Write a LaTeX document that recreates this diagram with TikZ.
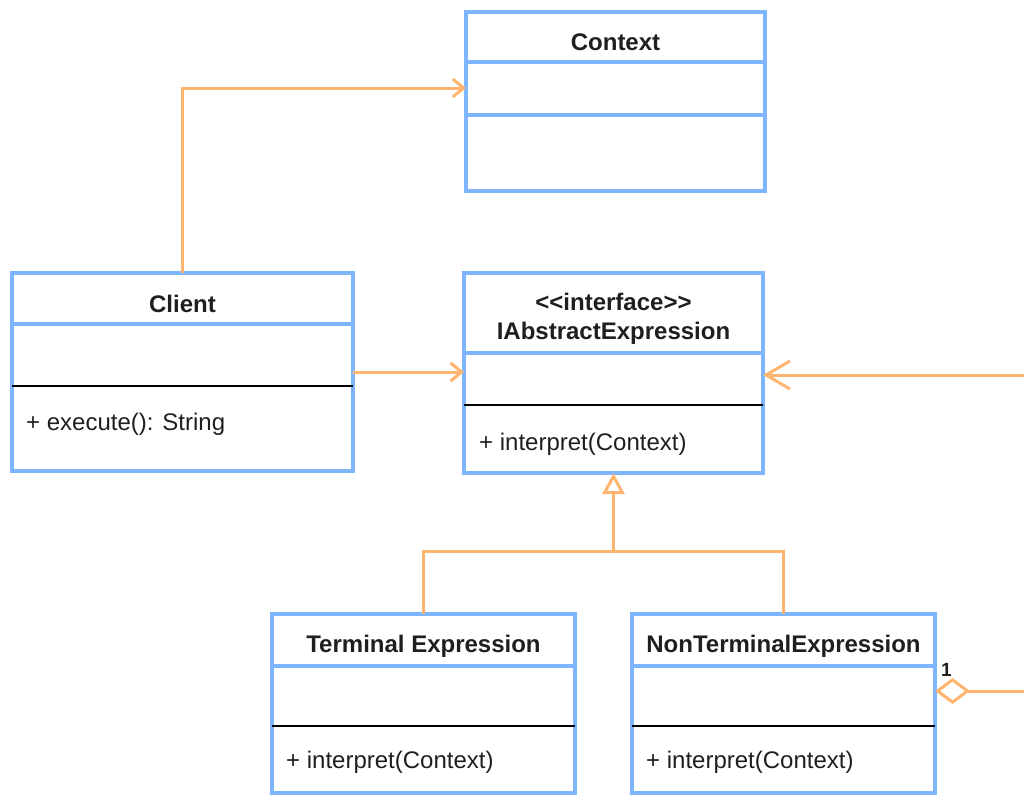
\documentclass[tikz,border=0pt]{standalone}
\usepackage{fontspec}
\setmainfont{Liberation Sans}
\usetikzlibrary{arrows.meta}
\definecolor{umlblue}{HTML}{7EB5FF}
\definecolor{umlorange}{HTML}{FFB570}
\definecolor{txt}{HTML}{1F1F1F}
\tikzset{
  classbox/.style={draw=umlblue, line width=3.5pt, rectangle, inner sep=0pt, outer sep=0pt, anchor=north west},
  bluediv/.style={draw=umlblue, line width=3.5pt},
  blackdiv/.style={draw=black, line width=1.5pt},
  title/.style={font=\fontsize{24}{28}\selectfont\bfseries, text=txt, inner sep=0pt, anchor=base},
  member/.style={font=\fontsize{24}{28}\selectfont, text=txt, inner sep=0pt, anchor=base west},
  mult/.style={font=\fontsize{19}{22}\selectfont\bfseries, text=txt, inner sep=0pt, anchor=base west},
  conn/.style={draw=umlorange, line width=3pt},
  assoc/.style={conn, -{Straight Barb[length=11pt,width=18pt]}},
  bigassoc/.style={conn, -{Straight Barb[length=24pt,width=28pt]}},
  generalize/.style={conn, -{Triangle[open, length=21pt, width=22pt, fill=white]}},
  aggregate/.style={conn, -{Diamond[open, length=35pt, width=26pt, fill=white]}}
}
\begin{document}
\begin{tikzpicture}[x=1pt,y=-1pt]
\useasboundingbox (0,0) rectangle (1024,795);

% Context
\node[classbox, minimum width=299pt, minimum height=179pt] (ctx) at (466,12) {};
\draw[bluediv] ([yshift=-50pt]ctx.north west) -- ([yshift=-50pt]ctx.north east);
\draw[bluediv] ([yshift=-103pt]ctx.north west) -- ([yshift=-103pt]ctx.north east);
\node[title] (ctxT) at (615.5,50) {Context};

% Client
\node[classbox, minimum width=341pt, minimum height=198pt] (client) at (12,273) {};
\draw[bluediv] ([yshift=-51pt]client.north west) -- ([yshift=-51pt]client.north east);
\draw[blackdiv] ([yshift=-113pt]client.north west) -- ([yshift=-113pt]client.north east);
\node[title] (clientT) at (182.5,312.5) {Client};
\node[member] (clientM) at (26,430) {+ execute(): String};

% Interface
\node[classbox, minimum width=299pt, minimum height=200pt] (iface) at (464,273) {};
\draw[bluediv] ([yshift=-80pt]iface.north west) -- ([yshift=-80pt]iface.north east);
\draw[blackdiv] ([yshift=-132pt]iface.north west) -- ([yshift=-132pt]iface.north east);
\node[title] (ifaceS) at (613.5,310) {<{}<interface>{}>};
\node[title] (ifaceT) at (613.5,339) {IAbstractExpression};
\node[member] (ifaceM) at (479,450) {+ interpret(Context)};

% Terminal Expression
\node[classbox, minimum width=303pt, minimum height=179pt] (term) at (272,614) {};
\draw[bluediv] ([yshift=-52pt]term.north west) -- ([yshift=-52pt]term.north east);
\draw[blackdiv] ([yshift=-112pt]term.north west) -- ([yshift=-112pt]term.north east);
\node[title] (termT) at (423.5,652.5) {Terminal Expression};
\node[member] (termM) at (286,768) {+ interpret(Context)};

% NonTerminal Expression
\node[classbox, minimum width=303pt, minimum height=179pt] (nonterm) at (632,614) {};
\draw[bluediv] ([yshift=-52pt]nonterm.north west) -- ([yshift=-52pt]nonterm.north east);
\draw[blackdiv] ([yshift=-112pt]nonterm.north west) -- ([yshift=-112pt]nonterm.north east);
\node[title] (nontermT) at (783.5,652.5) {NonTerminalExpression};
\node[member] (nontermM) at (646,768) {+ interpret(Context)};

% Connectors
\coordinate (ctxIn) at (466,88);
\draw[assoc] (client.north) |- (ctxIn);
\draw[assoc] (client.east) -- (client.east -| iface.west);
\coordinate (rightIn) at (1024,375);
\draw[bigassoc] (rightIn) -- (rightIn -| iface.east);
\coordinate (gj) at (613.5,551);
\draw[conn] (term.north) |- (gj);
\draw[conn] (nonterm.north) |- (gj);
\draw[generalize] (gj) -- (iface.south);
\coordinate (aggIn) at (1024,691);
\draw[aggregate] (aggIn) -- (aggIn -| nonterm.east);
\node[mult] (multOne) at (941,676) {1};
\end{tikzpicture}
\end{document}
